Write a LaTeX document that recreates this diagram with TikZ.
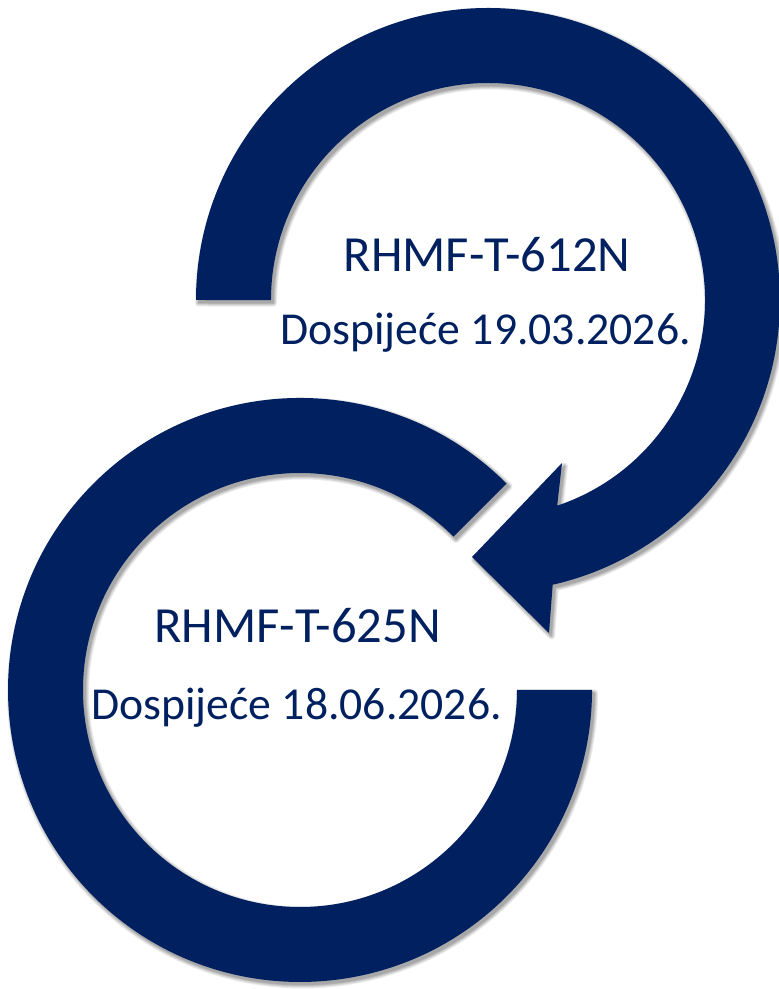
\documentclass[tikz,border=0pt]{standalone}
\usepackage{fontspec}
\setmainfont{Carlito}
\definecolor{navy}{HTML}{002060}
\tikzset{
  band/.style={fill=navy},
  label1/.style={anchor=base, text=navy, font=\fontsize{50.6pt}{60pt}\selectfont, inner sep=0pt},
  label2/.style={anchor=base, text=navy, font=\fontsize{45.7pt}{54pt}\selectfont, inner sep=0pt}
}
\def\toparrow{(196pt,689pt) arc[start angle=180,end angle=-77.2,radius=292pt]
  -- (549pt,356pt) -- (472pt,432pt) -- (562pt,526pt) -- (557.2pt,483.3pt)
  arc[start angle=-71.4,end angle=180,radius=217pt] -- cycle}
\def\bottomarc{(506.5pt,505.5pt) arc[start angle=45,end angle=360,radius=292pt]
  -- (517pt,299pt) arc[start angle=360,end angle=45,radius=217pt] -- cycle}
\begin{document}
\begin{tikzpicture}
\useasboundingbox (0pt,0pt) rectangle (779pt,989pt);
\fill[white] (0pt,0pt) rectangle (779pt,989pt);
% soft shadows
\foreach \w in {7,5,3,1.5,0.1}{
  \begin{scope}[transparency group, opacity=0.08, shift={(2.5pt,-3pt)}]
    \filldraw[black, line width=\w pt, line join=round] \toparrow;
    \filldraw[black, line width=\w pt, line join=round] \bottomarc;
  \end{scope}
}
\fill[band] \toparrow;
\fill[band] \bottomarc;
\node[label1] (t1) at (487pt,717pt) {RHMF-T-612N};
\node[label2] (t2) at (485.5pt,644pt) {Dospijeće 19.03.2026.};
\node[label1] (b1) at (297.5pt,346pt) {RHMF-T-625N};
\node[label2] (b2) at (296.5pt,269pt) {Dospijeće 18.06.2026.};
\end{tikzpicture}
\end{document}
